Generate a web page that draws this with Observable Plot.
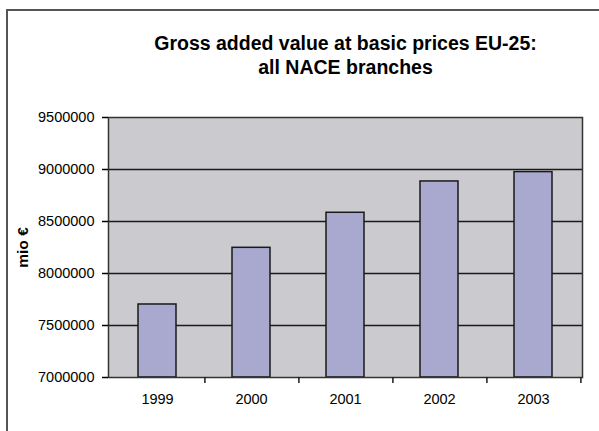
<!DOCTYPE html>
<html>
<head>
<meta charset="utf-8">
<script src="https://cdn.jsdelivr.net/npm/d3@7"></script>
<script src="https://cdn.jsdelivr.net/npm/@observablehq/plot@0.6"></script>
<style>
  html, body { margin: 0; padding: 0; background: #fff; }
  #wrap { position: relative; width: 599px; height: 431px; overflow: hidden; }
  #border { position: absolute; left: 6px; top: 9px; width: 700px; height: 600px;
            border-left: 2px solid #555; border-top: 2px solid #555; }
  #chart { position: absolute; left: 0; top: 0; }
</style>
</head>
<body>
<div id="wrap"><div id="border"></div><div id="chart"></div></div>
<script>
const years = ["1999", "2000", "2001", "2002", "2003"];
const values = [7702000, 8247000, 8584000, 8885000, 8975000];
const yTicks = [7000000, 7500000, 8000000, 8500000, 9000000, 9500000];
const gridTicks = [7500000, 8000000, 8500000, 9000000];
const titleText = "Gross added value at basic prices EU-25:\nall NACE branches";
const yLabel = "mio €";

const data = years.map((y, i) => ({year: y, value: values[i]}));

const W = 599, H = 431;
const mL = 108, mR = 17, mT = 117, mB = 54;
const step = (W - mL - mR) / years.length;
const font = "'Liberation Sans', Arial, sans-serif";

const chart = Plot.plot({
  width: W,
  height: H,
  marginLeft: mL,
  marginRight: mR,
  marginTop: mT,
  marginBottom: mB,
  style: {fontFamily: font, background: "transparent", color: "#000"},
  x: {type: "band", domain: years, padding: 0},
  y: {domain: [yTicks[0], yTicks[yTicks.length - 1]]},
  marks: [
    Plot.frame({fill: "#CBCBCF", stroke: null}),
    Plot.ruleY(gridTicks, {stroke: "#1a1a1a", strokeWidth: 1.5}),
    Plot.barY(data, {x: "year", y1: yTicks[0], y2: "value", fill: "#A9A9D0",
      stroke: "#1a1a1a", strokeWidth: 1.5, insetLeft: 28, insetRight: 28}),
    Plot.frame({stroke: "#333", strokeWidth: 1.5}),
    Plot.ruleX(years, {x: d => d, dx: step / 2, y1: yTicks[0], y2: yTicks[0],
      insetBottom: -6, stroke: "#1a1a1a", strokeWidth: 1.5}),
    Plot.axisY({ticks: yTicks, tickFormat: d => String(d), tickSize: 6,
      tickPadding: 8, fontSize: 14.5, label: null, strokeWidth: 1.5}),
    Plot.axisX({tickSize: 0, tickPadding: 16, fontSize: 14.5, label: null}),
    Plot.text([yLabel], {frameAnchor: "left", dx: -85, rotate: -90,
      fontWeight: "bold", fontSize: 15.5, textAnchor: "middle"}),
    Plot.text([titleText], {frameAnchor: "top", dy: -84, fontWeight: "bold",
      fontSize: 19.5, lineHeight: 1.2, textAnchor: "middle", lineAnchor: "top"})
  ]
});
document.getElementById("chart").appendChild(chart);
</script>
</body>
</html>
